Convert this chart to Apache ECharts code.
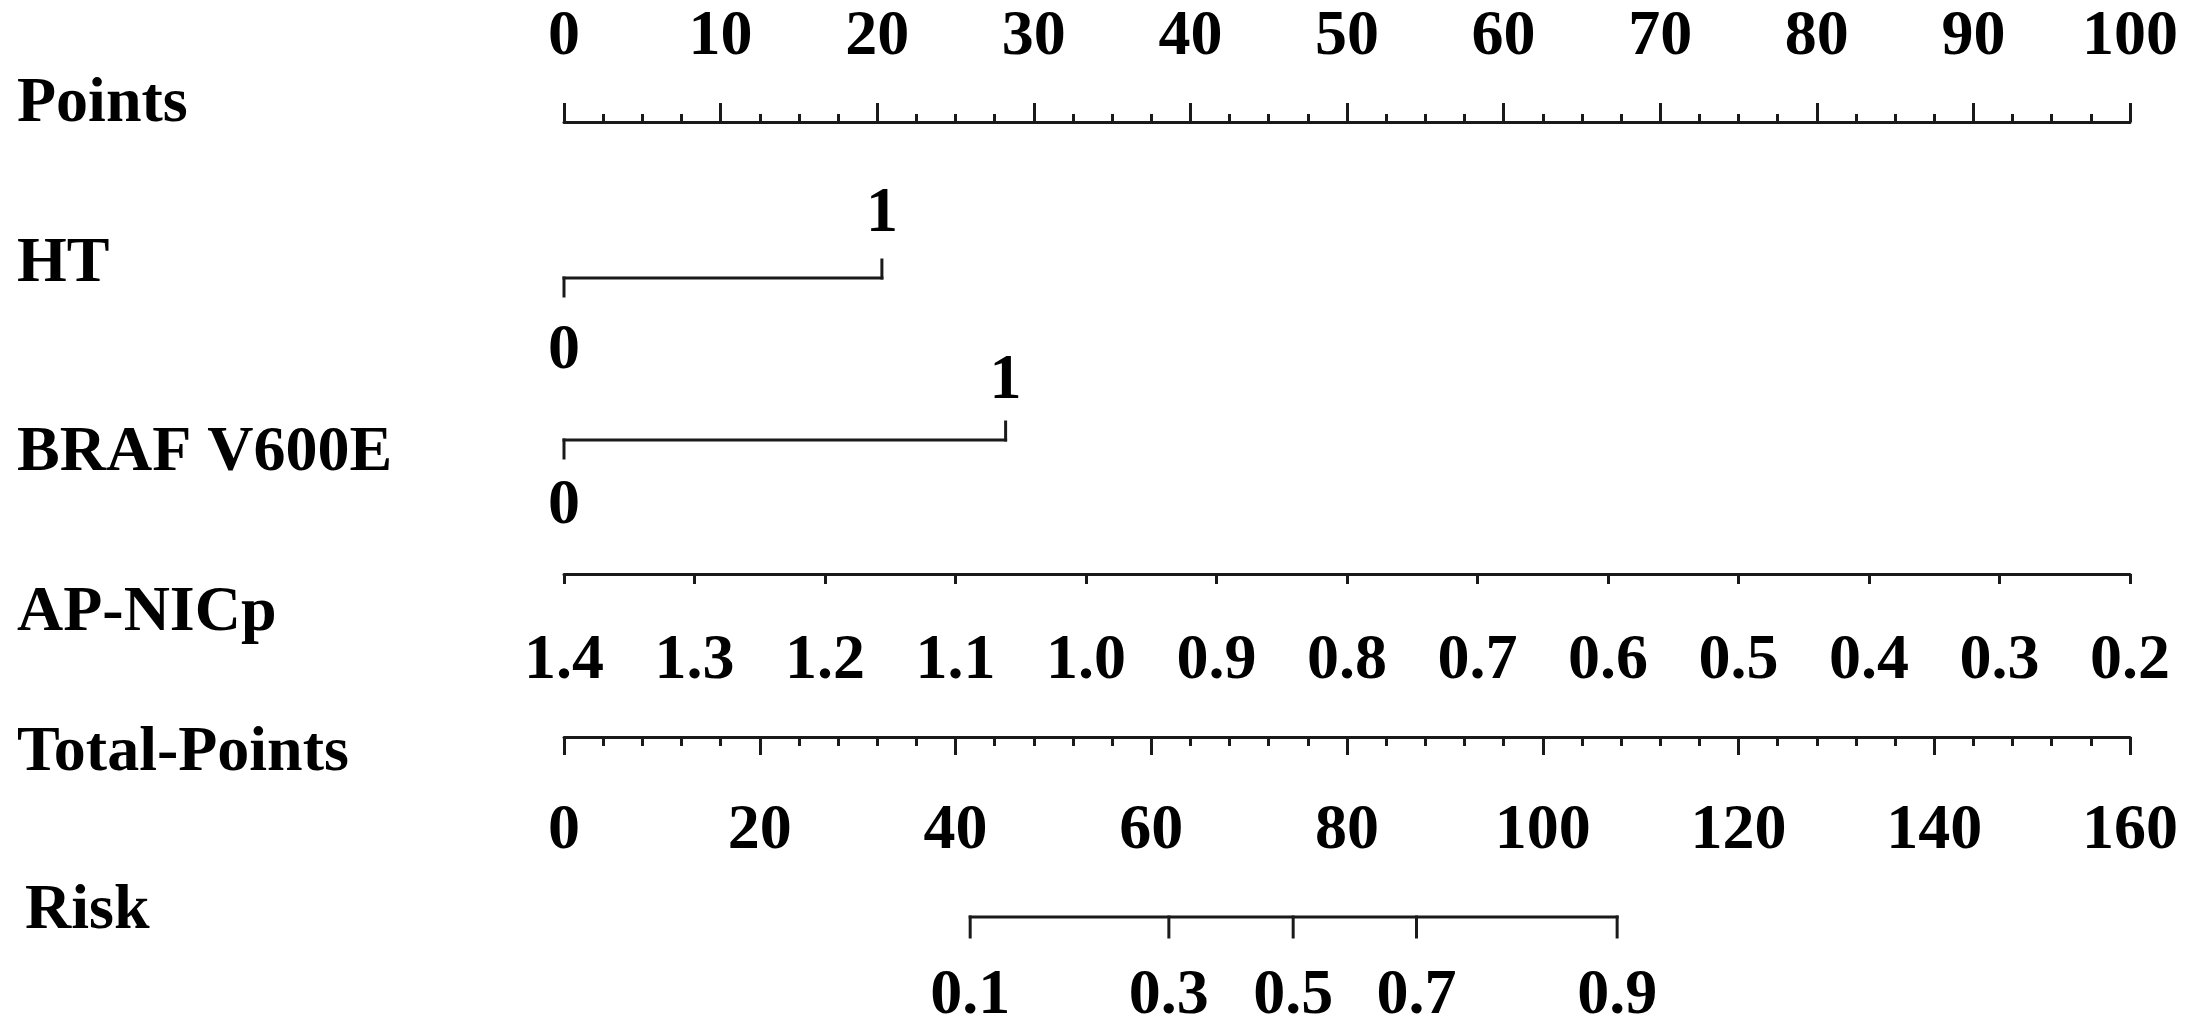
<!DOCTYPE html>
<html><head><meta charset="utf-8">
<script src="https://cdn.jsdelivr.net/npm/echarts@6/dist/echarts.min.js"></script>
<style>html,body{margin:0;padding:0;background:#fff}#c{width:2202px;height:1026px}</style>
</head><body><div id="c"></div>
<script>
// ---------- data ----------
const rowLabels = ['Points', 'HT', 'BRAF V600E', 'AP-NICp', 'Total-Points', 'Risk'];
const pointsMin = 0, pointsMax = 100, pointsStep = 10;
const htLevels = ['0', '1'];
const htPoints = [0, 20.3];
const brafLevels = ['0', '1'];
const brafPoints = [0, 28.2];
const apnicpMin = 0.2, apnicpMax = 1.4, apnicpStep = 0.1;
const totalMin = 0, totalMax = 160, totalStep = 20;
const riskLabels = ['0.1', '0.3', '0.5', '0.7', '0.9'];
const riskTotalPoints = [41.5, 61.8, 74.5, 87.1, 107.6];

// ---------- layout / style ----------
const FONT = '"Liberation Serif", "Times New Roman", serif';
const tickFont = 64, rowFont = 64;
const ink = '#1a1a1a', lw = 3;
const L = 564, R = 72;
const lineY = { points: 102, ht: 278, braf: 440, apnicp: 594, total: 757, risk: 917 };
const labelYs = [104, 264, 453, 613, 753, 911];
const labelX = [17, 17, 17, 17, 17, 25];

const txt = { fontFamily: FONT, fontWeight: 'bold', fontSize: tickFont, color: '#000' };

function rowGrid(y) { return { left: L, right: R, top: y - 40, height: 80, containLabel: false, outerBoundsMode: 'none' }; }
function lineStyle() { return { stroke: ink, lineWidth: lw, lineCap: 'square' }; }

function stepRender(labels, values, dirFn, tickLen, offDown, offUp) {
  return function (params, api) {
    const i = params.dataIndex, n = values.length;
    const p = api.coord([api.value(0), 0]);
    const dir = dirFn(i, n);
    const ch = [];
    if (i === 0) {
      const q = api.coord([values[n - 1], 0]);
      ch.push({ type: 'line', shape: { x1: p[0], y1: p[1], x2: q[0], y2: q[1] }, style: lineStyle() });
    }
    ch.push({ type: 'line', shape: { x1: p[0], y1: p[1], x2: p[0], y2: p[1] + dir * tickLen }, style: lineStyle() });
    ch.push({ type: 'text', x: p[0], y: p[1] + (dir > 0 ? offDown : -offUp),
      style: { text: labels[i], fill: '#000', font: 'bold ' + tickFont + 'px ' + FONT, align: 'center', verticalAlign: 'middle' } });
    return { type: 'group', children: ch };
  };
}
const altDir = (i, n) => (i === 0 ? 1 : -1);
const downDir = () => 1;

const grids = [
  { left: L, right: R, top: lineY.points, height: 40, containLabel: false, outerBoundsMode: 'none' },
  rowGrid(lineY.ht),
  rowGrid(lineY.braf),
  { left: L, right: R, top: lineY.apnicp - 40, height: 40, containLabel: false, outerBoundsMode: 'none' },
  { left: L, right: R, top: lineY.total - 40, height: 40, containLabel: false, outerBoundsMode: 'none' },
  rowGrid(lineY.risk)
];

const xAxes = [
  { gridIndex: 0, type: 'value', position: 'top', min: pointsMin, max: pointsMax, interval: pointsStep,
    axisLine: { lineStyle: { color: ink, width: lw } },
    axisTick: { length: 19, lineStyle: { color: ink, width: lw } },
    minorTick: { show: true, splitNumber: 4, length: 8, lineStyle: { color: ink, width: lw } },
    axisLabel: Object.assign({ margin: 33, showMinLabel: true, showMaxLabel: true, hideOverlap: false }, txt),
    splitLine: { show: false } },
  { gridIndex: 1, type: 'value', min: pointsMin, max: pointsMax, show: false },
  { gridIndex: 2, type: 'value', min: pointsMin, max: pointsMax, show: false },
  { gridIndex: 3, type: 'value', position: 'bottom', min: apnicpMin, max: apnicpMax, interval: apnicpStep, inverse: true,
    axisLine: { lineStyle: { color: ink, width: lw } },
    axisTick: { length: 10, lineStyle: { color: ink, width: lw } },
    axisLabel: Object.assign({ margin: 35, showMinLabel: true, showMaxLabel: true, hideOverlap: false,
      formatter: v => v.toFixed(1) }, txt),
    splitLine: { show: false } },
  { gridIndex: 4, type: 'value', position: 'bottom', min: totalMin, max: totalMax, interval: totalStep,
    axisLine: { lineStyle: { color: ink, width: lw } },
    axisTick: { length: 18, lineStyle: { color: ink, width: lw } },
    minorTick: { show: true, splitNumber: 5, length: 9, lineStyle: { color: ink, width: lw } },
    axisLabel: Object.assign({ margin: 42, showMinLabel: true, showMaxLabel: true, hideOverlap: false }, txt),
    splitLine: { show: false } },
  { gridIndex: 5, type: 'value', min: totalMin, max: totalMax, show: false }
];
const yAxes = grids.map((g, i) => ({ gridIndex: i, type: 'value', min: -1, max: 1, show: false }));

const graphics = rowLabels.map((t, i) => ({
  type: 'text', x: labelX[i], y: labelYs[i],
  style: { text: t, fill: '#000', font: 'bold ' + rowFont + 'px ' + FONT, verticalAlign: 'middle' }
}));

const chart = echarts.init(document.getElementById('c'), null, { renderer: 'canvas' });
chart.setOption({
  animation: false,
  backgroundColor: '#fff',
  grid: grids,
  xAxis: xAxes,
  yAxis: yAxes,
  graphic: graphics,
  series: [
    { type: 'custom', xAxisIndex: 1, yAxisIndex: 1, data: htPoints.map(v => [v, 0]),
      renderItem: stepRender(htLevels, htPoints, altDir, 18, 73, 64), clip: false },
    { type: 'custom', xAxisIndex: 2, yAxisIndex: 2, data: brafPoints.map(v => [v, 0]),
      renderItem: stepRender(brafLevels, brafPoints, altDir, 18, 66, 59), clip: false },
    { type: 'custom', xAxisIndex: 5, yAxisIndex: 5, data: riskTotalPoints.map(v => [v, 0]),
      renderItem: stepRender(riskLabels, riskTotalPoints, downDir, 20, 79, 0), clip: false }
  ]
});
</script></body></html>
